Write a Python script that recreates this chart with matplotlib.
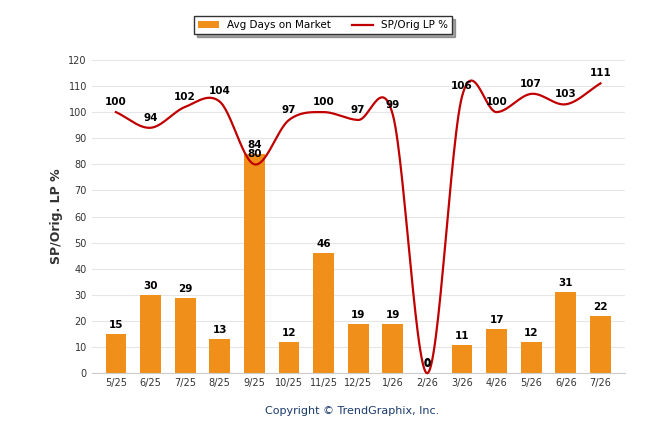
import numpy as np
import matplotlib
matplotlib.use("Agg")
import matplotlib.pyplot as plt

months = ["5/25","6/25","7/25","8/25","9/25","10/25","11/25","12/25","1/26","2/26","3/26","4/26","5/26","6/26","7/26"]
days = [15,30,29,13,84,12,46,19,19,0,11,17,12,31,22]
splp = [100,94,102,104,80,97,100,97,99,0,106,100,107,103,111]

def catmull(x, y, n=30):
    x = np.asarray(x, float); y = np.asarray(y, float)
    px = np.concatenate([[2*x[0]-x[1]], x, [2*x[-1]-x[-2]]])
    py = np.concatenate([[2*y[0]-y[1]], y, [2*y[-1]-y[-2]]])
    xs, ys = [], []
    for i in range(1, len(px)-2):
        t = np.linspace(0, 1, n)
        for P, out in ((px, xs), (py, ys)):
            p0, p1, p2, p3 = P[i-1], P[i], P[i+1], P[i+2]
            out.extend(0.5*((2*p1) + (-p0+p2)*t + (2*p0-5*p1+4*p2-p3)*t**2 + (-p0+3*p1-3*p2+p3)*t**3))
    return np.array(xs), np.array(ys)

fig = plt.figure(figsize=(6.46, 4.34), dpi=100)
ax = fig.add_axes([0.142, 0.14, 0.825, 0.722])
x = np.arange(len(months))
b = ax.bar(x, days, width=0.6, color="#f0901a", zorder=2, label="Avg Days on Market")
sx, sy = catmull(x, splp)
l, = ax.plot(sx, sy, color="#c00000", lw=1.6, zorder=3, label="SP/Orig LP %", clip_on=False)
for xi, v in zip(x, days):
    ax.text(xi, v + 1.5, str(v), ha="center", va="bottom", fontsize=7.5, fontweight="bold", zorder=4)
for xi, v in zip(x, splp):
    ax.text(xi, v + 2, str(v), ha="center", va="bottom", fontsize=7.5, fontweight="bold", zorder=4)
ax.set_xlim(-0.7, len(months) - 0.3)
ax.set_ylim(0, 120)
ax.set_yticks(range(0, 121, 10))
ax.set_xticks(x)
ax.set_xticklabels(months)
ax.tick_params(labelsize=7, colors="#333333", length=0)
ax.grid(axis="y", color="#e6e6e6", lw=0.8, zorder=0)
for s in ["top", "right", "left"]:
    ax.spines[s].set_visible(False)
ax.spines["bottom"].set_color("#cccccc")
ax.set_ylabel("SP/Orig. LP %", fontsize=9, fontweight="bold", color="#333333")
fig.legend([b, l], ["Avg Days on Market", "SP/Orig LP %"], loc="upper center",
           bbox_to_anchor=(0.5, 0.975), ncol=2, fontsize=7.5,
           frameon=True, fancybox=False, shadow=True, edgecolor="#333333")
fig.text(0.545, 0.045, "Copyright © TrendGraphix, Inc.", ha="center", fontsize=8, color="#1a3a6a")
fig.savefig("out.png", dpi=100)
